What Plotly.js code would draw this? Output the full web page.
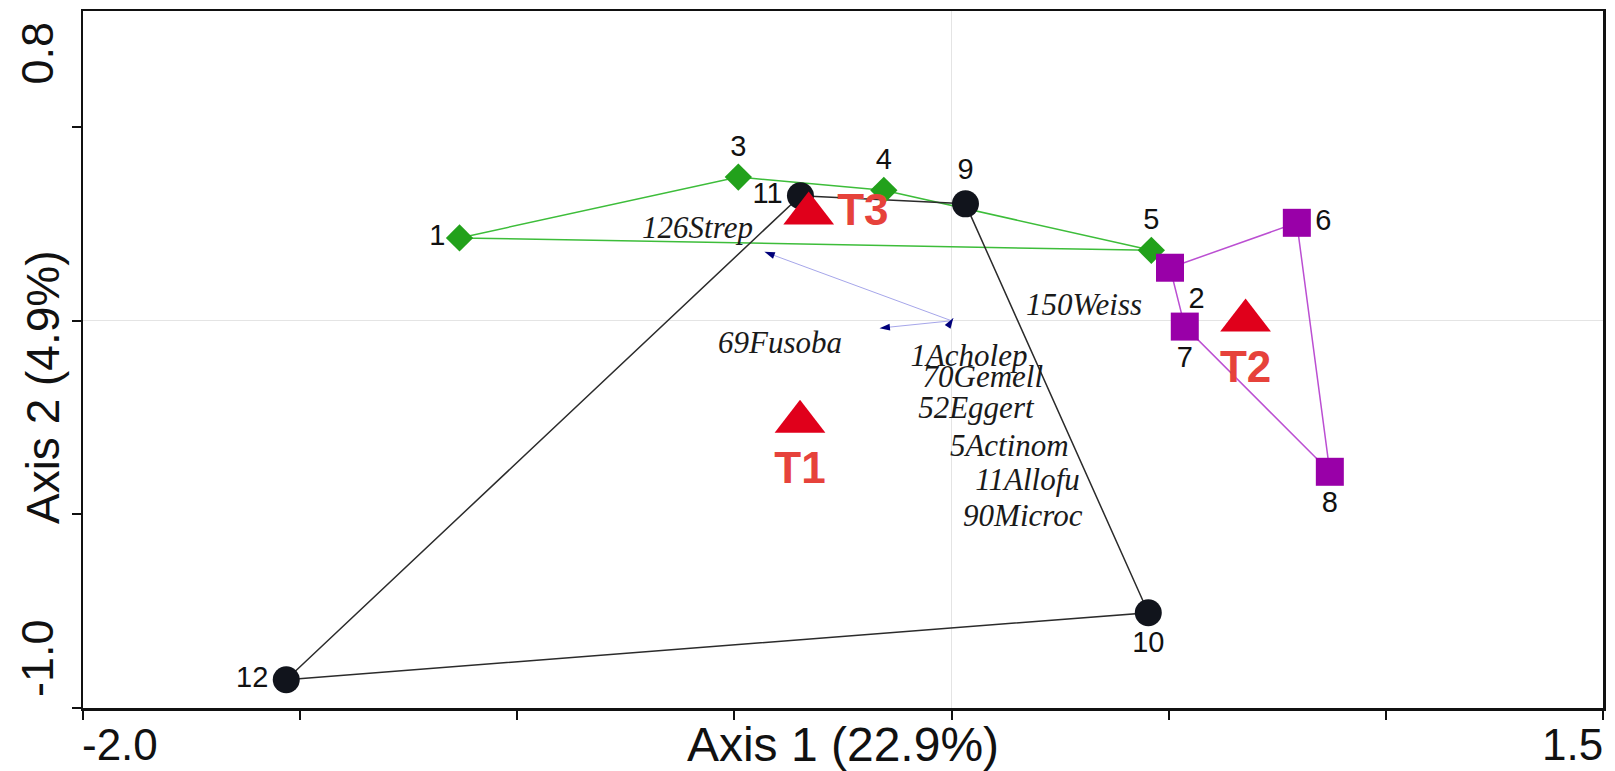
<!DOCTYPE html>
<html>
<head>
<meta charset="utf-8">
<script src="https://cdn.plot.ly/plotly-3.0.1.min.js"></script>
<style>
html,body{margin:0;padding:0;background:#ffffff;}
#chart{width:1615px;height:771px;}
</style>
</head>
<body>
<div id="chart"></div>
<script>
// ---- Sample scores (ordination) ----
const greenIds = ['1', '3', '4', '5'];
const greenX = [-1.133, -0.491, -0.156, 0.460];
const greenY = [0.214, 0.371, 0.337, 0.182];

const blackIds = ['11', '9', '10', '12'];
const blackX = [-0.348, 0.032, 0.453, -1.532];
const blackY = [0.323, 0.302, -0.754, -0.927];

const purpleIds = ['2', '6', '8', '7'];
const purpleX = [0.503, 0.795, 0.871, 0.537];
const purpleY = [0.137, 0.253, -0.390, -0.015];

// ---- Treatment centroids ----
const treatNames = ['T1', 'T2', 'T3'];
const treatX = [-0.349, 0.677, -0.329];
const treatY = [-0.261, 0.001, 0.277];

// ---- Species labels ----
const speciesNames = ['126Strep', '150Weiss', '69Fusoba', '1Acholep', '70Gemell', '52Eggert', '5Actinom', '11Allofu', '90Microc'];
const speciesX = [-0.585, 0.305, -0.395, 0.040, 0.072, 0.056, 0.133, 0.175, 0.164];
const speciesY = [0.234, 0.036, -0.063, -0.097, -0.151, -0.232, -0.329, -0.416, -0.510];

// ---- Biplot vectors (tips, from origin) ----
const vectorX = [-0.431, -0.166, 0.004];
const vectorY = [0.178, -0.019, 0.007];

// ---- Axis tick labels ----
const xTickVals = [-2.0, 1.5];
const xTickText = ['-2.0', '1.5'];
const yTickVals = [0.8, -1.0];
const yTickText = ['0.8', '-1.0'];
const xTitle = 'Axis 1 (22.9%)';
const yTitle = 'Axis 2 (4.9%)';

// ---- Build traces ----
function closed(a) { return a.concat([a[0]]); }
const sans = 'Liberation Sans, Arial, Helvetica, sans-serif';
const serif = 'Liberation Serif, Times New Roman, serif';

const traces = [];

// hull lines
traces.push({x: closed(greenX), y: closed(greenY), mode: 'lines', type: 'scatter',
  line: {color: '#3dbd3a', width: 1.5}, hoverinfo: 'skip'});
traces.push({x: closed(blackX), y: closed(blackY), mode: 'lines', type: 'scatter',
  line: {color: '#2b2b2b', width: 1.5}, hoverinfo: 'skip'});
traces.push({x: closed(purpleX), y: closed(purpleY), mode: 'lines', type: 'scatter',
  line: {color: '#bb4fd2', width: 1.5}, hoverinfo: 'skip'});

// vectors: light shaft + navy arrow head at the tip
vectorX.forEach((v, i) => {
  traces.push({x: [0, v], y: [0, vectorY[i]], mode: 'lines+markers', type: 'scatter',
    line: {color: '#a6a6ea', width: 1},
    marker: {symbol: 'arrow', size: 11, angleref: 'previous', color: '#00007a'},
    hoverinfo: 'skip'});
});

// markers with labels
const labelFont = {family: sans, size: 29, color: '#111111'};
traces.push({x: blackX, y: blackY, text: blackIds, mode: 'markers+text', type: 'scatter',
  marker: {symbol: 'circle', size: 27, color: '#11141c'},
  textposition: ['middle left', 'top center', 'bottom center', 'middle left'],
  textfont: labelFont});
traces.push({x: greenX, y: greenY, text: greenIds, mode: 'markers+text', type: 'scatter',
  marker: {symbol: 'diamond', size: 21, color: '#22a11b'},
  textposition: ['middle left', 'top center', 'top center', 'top center'],
  textfont: labelFont});
traces.push({x: purpleX, y: purpleY, text: purpleIds, mode: 'markers+text', type: 'scatter',
  marker: {symbol: 'square', size: 28, color: '#9900a8'},
  textposition: ['bottom right', 'middle right', 'bottom center', 'bottom center'],
  textfont: labelFont});

// treatments
traces.push({x: treatX, y: treatY, text: treatNames, mode: 'markers+text', type: 'scatter',
  marker: {symbol: 'triangle-up', size: 44, color: '#e0001b'},
  textposition: ['bottom center', 'bottom center', 'middle right'],
  textfont: {family: sans, size: 44, color: '#e6423b', weight: 'bold'}});

// species names
traces.push({x: speciesX, y: speciesY, text: speciesNames, mode: 'text', type: 'scatter',
  textposition: 'middle center',
  textfont: {family: serif, size: 31, color: '#1a1a1a', style: 'italic'}});

// ---- Annotations (tick labels placed inside the frame ends, y title) ----
const annotations = [];
xTickVals.forEach((v, i) => {
  annotations.push({x: v, xref: 'x', y: 0, yref: 'paper', text: xTickText[i], showarrow: false,
    xanchor: i === 0 ? 'left' : 'right', yanchor: 'top', xshift: i === 0 ? -3 : 2, yshift: -10,
    font: {family: sans, size: 44, color: '#111111'}});
});
yTickVals.forEach((v, i) => {
  annotations.push({x: 0, xref: 'paper', y: v, yref: 'y', text: yTickText[i], showarrow: false,
    textangle: -90, xanchor: 'center', yanchor: i === 0 ? 'top' : 'bottom',
    xshift: -46, yshift: i === 0 ? -9 : 9,
    font: {family: sans, size: 45, color: '#111111'}});
});
annotations.push({x: 0, xref: 'paper', y: 0.4605, yref: 'paper', text: yTitle, showarrow: false,
  textangle: -90, xanchor: 'center', yanchor: 'middle', xshift: -40,
  font: {family: sans, size: 46, color: '#111111'}});

const layout = {
  width: 1615, height: 771,
  margin: {l: 83, r: 12, t: 11, b: 63},
  paper_bgcolor: '#ffffff', plot_bgcolor: '#ffffff',
  showlegend: false,
  hovermode: false,
  font: {family: sans, color: '#111111'},
  xaxis: {range: [-2, 1.5], tick0: -2, dtick: 0.5, ticks: 'outside', ticklen: 9, tickwidth: 2,
    tickcolor: '#111111', showticklabels: false, showgrid: false,
    zeroline: true, zerolinecolor: '#e4e4e4', zerolinewidth: 1,
    showline: true, linecolor: '#111111', linewidth: 2.5, mirror: true,
    automargin: false, fixedrange: true,
    title: {text: xTitle, font: {family: sans, size: 48, color: '#111111'}, standoff: 9}},
  yaxis: {range: [-1, 0.8], tick0: -1, dtick: 0.5, ticks: 'outside', ticklen: 9, tickwidth: 2,
    tickcolor: '#111111', showticklabels: false, showgrid: false,
    zeroline: true, zerolinecolor: '#e4e4e4', zerolinewidth: 1,
    showline: true, linecolor: '#111111', linewidth: 2.5, mirror: true,
    automargin: false, fixedrange: true},
  annotations: annotations
};

Plotly.newPlot('chart', traces, layout, {displayModeBar: false, staticPlot: true});
</script>
</body>
</html>
